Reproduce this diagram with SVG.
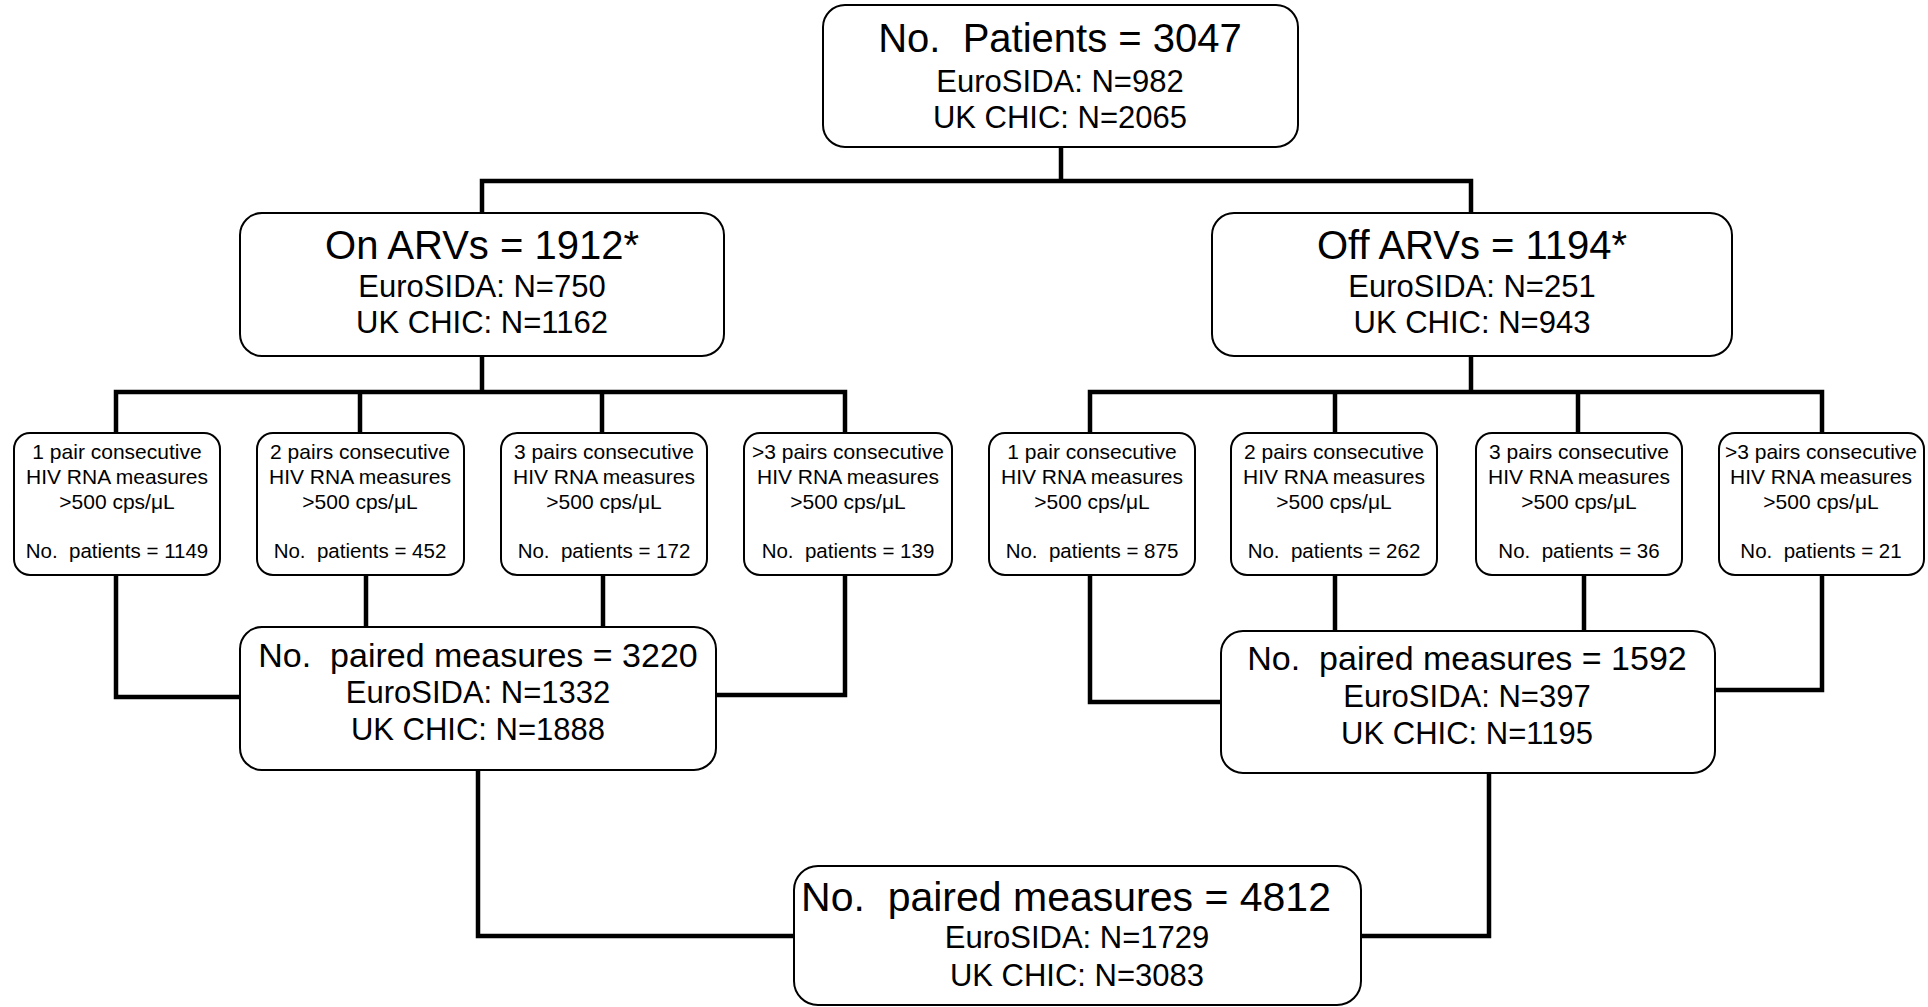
<svg xmlns="http://www.w3.org/2000/svg" width="1928" height="1007" viewBox="0 0 1928 1007">
<style>
.box{fill:#fff;stroke:#000;stroke-width:2}
.c{fill:none;stroke:#000;stroke-width:4.5;stroke-linecap:square;stroke-linejoin:miter}
text{font-family:"Liberation Sans",Arial,Helvetica,sans-serif;fill:#000;text-anchor:middle;white-space:pre}
.h1{font-size:40px}
.h2{font-size:34px}
.h3{font-size:41px}
.s{font-size:31px}
.t{font-size:21px}
.tn{font-size:20.5px}
</style>
<rect width="1928" height="1007" fill="#fff"/>
<g id="connectors">
<path class="c" d="M1061 147V181M482 213V181H1471V213"/>
<path class="c" d="M482 356V392M116 433V392H845V433M360 392V433M602 392V433"/>
<path class="c" d="M1471 356V392M1090 433V392H1822V433M1335 392V433M1578 392V433"/>
<path class="c" d="M116 575V697H240M366 575V627M603 575V627M845 575V695H716"/>
<path class="c" d="M1090 575V702H1221M1335 575V631M1584 575V631M1822 575V690H1715"/>
<path class="c" d="M478 770V936H794M1489 773V936H1361"/>
</g>
<g id="n_total">
<rect class="box" x="823" y="5" width="475" height="142" rx="22"/>
<text class="h1" x="1060" y="52" xml:space="preserve">No.  Patients = 3047</text>
<text class="s" x="1060" y="92">EuroSIDA: N=982</text>
<text class="s" x="1060" y="128">UK CHIC: N=2065</text>
</g>
<g id="n_on">
<rect class="box" x="240" y="213" width="484" height="143" rx="22"/>
<text class="h1" x="482" y="259">On ARVs = 1912*</text>
<text class="s" x="482" y="297">EuroSIDA: N=750</text>
<text class="s" x="482" y="333">UK CHIC: N=1162</text>
</g>
<g id="n_off">
<rect class="box" x="1212" y="213" width="520" height="143" rx="22"/>
<text class="h1" x="1472" y="259">Off ARVs = 1194*</text>
<text class="s" x="1472" y="297">EuroSIDA: N=251</text>
<text class="s" x="1472" y="333">UK CHIC: N=943</text>
</g>
<g id="n_on1">
<rect class="box" x="14" y="433" width="206" height="142" rx="16"/>
<text class="t" x="117" y="459">1 pair consecutive</text>
<text class="t" x="117" y="484">HIV RNA measures</text>
<text class="t" x="117" y="509">&gt;500 cps/μL</text>
<text class="tn" x="117" y="558" xml:space="preserve">No.  patients = 1149</text>
</g>
<g id="n_on2">
<rect class="box" x="257" y="433" width="207" height="142" rx="16"/>
<text class="t" x="360" y="459">2 pairs consecutive</text>
<text class="t" x="360" y="484">HIV RNA measures</text>
<text class="t" x="360" y="509">&gt;500 cps/μL</text>
<text class="tn" x="360" y="558" xml:space="preserve">No.  patients = 452</text>
</g>
<g id="n_on3">
<rect class="box" x="501" y="433" width="206" height="142" rx="16"/>
<text class="t" x="604" y="459">3 pairs consecutive</text>
<text class="t" x="604" y="484">HIV RNA measures</text>
<text class="t" x="604" y="509">&gt;500 cps/μL</text>
<text class="tn" x="604" y="558" xml:space="preserve">No.  patients = 172</text>
</g>
<g id="n_on4">
<rect class="box" x="744" y="433" width="208" height="142" rx="16"/>
<text class="t" x="848" y="459">&gt;3 pairs consecutive</text>
<text class="t" x="848" y="484">HIV RNA measures</text>
<text class="t" x="848" y="509">&gt;500 cps/μL</text>
<text class="tn" x="848" y="558" xml:space="preserve">No.  patients = 139</text>
</g>
<g id="n_off1">
<rect class="box" x="989" y="433" width="206" height="142" rx="16"/>
<text class="t" x="1092" y="459">1 pair consecutive</text>
<text class="t" x="1092" y="484">HIV RNA measures</text>
<text class="t" x="1092" y="509">&gt;500 cps/μL</text>
<text class="tn" x="1092" y="558" xml:space="preserve">No.  patients = 875</text>
</g>
<g id="n_off2">
<rect class="box" x="1231" y="433" width="206" height="142" rx="16"/>
<text class="t" x="1334" y="459">2 pairs consecutive</text>
<text class="t" x="1334" y="484">HIV RNA measures</text>
<text class="t" x="1334" y="509">&gt;500 cps/μL</text>
<text class="tn" x="1334" y="558" xml:space="preserve">No.  patients = 262</text>
</g>
<g id="n_off3">
<rect class="box" x="1476" y="433" width="206" height="142" rx="16"/>
<text class="t" x="1579" y="459">3 pairs consecutive</text>
<text class="t" x="1579" y="484">HIV RNA measures</text>
<text class="t" x="1579" y="509">&gt;500 cps/μL</text>
<text class="tn" x="1579" y="558" xml:space="preserve">No.  patients = 36</text>
</g>
<g id="n_off4">
<rect class="box" x="1719" y="433" width="205" height="142" rx="16"/>
<text class="t" x="1821" y="459">&gt;3 pairs consecutive</text>
<text class="t" x="1821" y="484">HIV RNA measures</text>
<text class="t" x="1821" y="509">&gt;500 cps/μL</text>
<text class="tn" x="1821" y="558" xml:space="preserve">No.  patients = 21</text>
</g>
<g id="n_pair_on">
<rect class="box" x="240" y="627" width="476" height="143" rx="22"/>
<text class="h2" x="478" y="667" xml:space="preserve">No.  paired measures = 3220</text>
<text class="s" x="478" y="703">EuroSIDA: N=1332</text>
<text class="s" x="478" y="740">UK CHIC: N=1888</text>
</g>
<g id="n_pair_off">
<rect class="box" x="1221" y="631" width="494" height="142" rx="22"/>
<text class="h2" x="1467" y="670" xml:space="preserve">No.  paired measures = 1592</text>
<text class="s" x="1467" y="707">EuroSIDA: N=397</text>
<text class="s" x="1467" y="744">UK CHIC: N=1195</text>
</g>
<g id="n_all">
<rect class="box" x="794" y="866" width="567" height="139" rx="24"/>
<text class="h3" x="1066" y="911" xml:space="preserve">No.  paired measures = 4812</text>
<text class="s" x="1077" y="948">EuroSIDA: N=1729</text>
<text class="s" x="1077" y="986">UK CHIC: N=3083</text>
</g>
</svg>
